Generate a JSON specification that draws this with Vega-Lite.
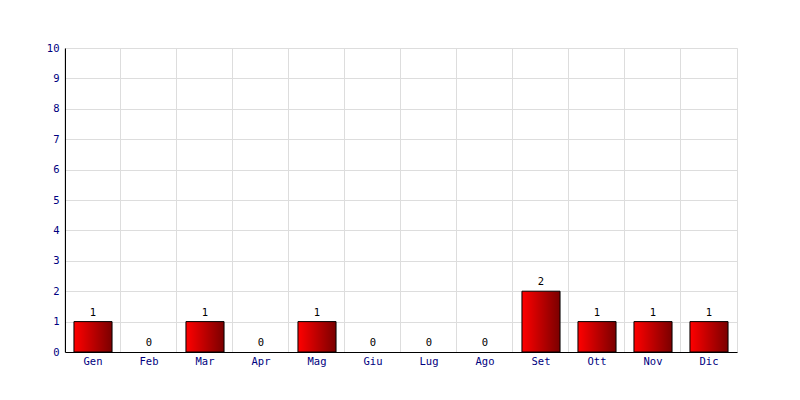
{
  "$schema": "https://vega.github.io/schema/vega-lite/v6.json",
  "width": 672,
  "height": 304,
  "autosize": "none",
  "padding": {"left": 65, "top": 48, "right": 63, "bottom": 48},
  "background": "white",
  "config": {
    "view": {"stroke": "#dddddd", "strokeWidth": 1},
    "font": "DejaVu Sans Mono"
  },
  "data": {
    "values": [
      {"mese": "Gen", "valore": 1},
      {"mese": "Feb", "valore": 0},
      {"mese": "Mar", "valore": 1},
      {"mese": "Apr", "valore": 0},
      {"mese": "Mag", "valore": 1},
      {"mese": "Giu", "valore": 0},
      {"mese": "Lug", "valore": 0},
      {"mese": "Ago", "valore": 0},
      {"mese": "Set", "valore": 2},
      {"mese": "Ott", "valore": 1},
      {"mese": "Nov", "valore": 1},
      {"mese": "Dic", "valore": 1}
    ]
  },
  "encoding": {
    "x": {
      "field": "mese",
      "type": "nominal",
      "sort": ["Gen", "Feb", "Mar", "Apr", "Mag", "Giu", "Lug", "Ago", "Set", "Ott", "Nov", "Dic"],
      "scale": {"paddingInner": 0.32, "paddingOuter": 0.16},
      "axis": {
        "title": null,
        "labelAngle": 0,
        "labelColor": "#000080",
        "labelFont": "DejaVu Sans Mono",
        "labelFontSize": 10.5,
        "labelPadding": 4,
        "ticks": false,
        "domainColor": "black",
        "domainWidth": 1,
        "grid": true,
        "gridColor": "#dddddd",
        "bandPosition": -0.2353
      }
    },
    "y": {
      "field": "valore",
      "type": "quantitative",
      "scale": {"domain": [0, 10], "nice": false},
      "axis": {
        "title": null,
        "values": [0, 1, 2, 3, 4, 5, 6, 7, 8, 9, 10],
        "labelColor": "#000080",
        "labelFont": "DejaVu Sans Mono",
        "labelFontSize": 10.5,
        "labelPadding": 6,
        "ticks": false,
        "domainColor": "black",
        "grid": true,
        "gridColor": "#dddddd"
      }
    }
  },
  "layer": [
    {
      "transform": [{"filter": "datum.valore > 0"}],
      "mark": {
        "type": "bar",
        "stroke": "black",
        "strokeWidth": 1,
        "color": {
          "gradient": "linear",
          "x1": 0, "y1": 0, "x2": 1, "y2": 0,
          "stops": [
            {"offset": 0, "color": "#ff0000"},
            {"offset": 1, "color": "#7a0000"}
          ]
        }
      }
    },
    {
      "mark": {
        "type": "text",
        "baseline": "bottom",
        "dy": -4,
        "font": "DejaVu Sans Mono",
        "fontSize": 10.5,
        "color": "black"
      },
      "encoding": {"text": {"field": "valore", "type": "quantitative"}}
    }
  ]
}
